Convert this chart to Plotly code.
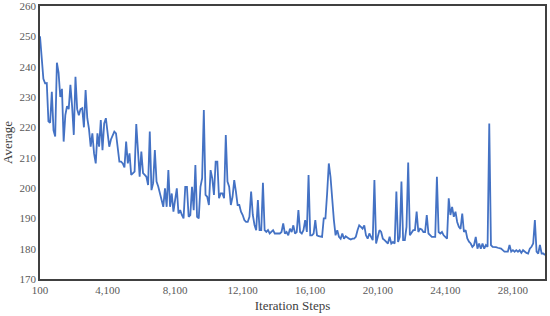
import plotly.graph_objects as go

# average value, sampled every 100 iteration steps (100 .. 30,000)
step_start = 100
step_size = 100

avg_values = [
    250, 243, 236, 234.5, 234.6, 222, 221.5, 231.7, 219, 217,
    241.3, 238, 230, 232.7, 215.3, 224, 227, 226, 234, 227,
    217.5, 236.7, 226, 224, 226, 226.3, 220, 232.3, 223, 219.5,
    213.6, 218, 211.4, 208.1, 218, 213.6, 222.4, 212.5, 221.3, 223,
    218.6, 213.6, 216, 217.5, 218.6, 218, 213.5, 208.7, 208.7, 208.1,
    206.8, 215.3, 208.1, 211.4, 204.3, 204.9, 205.4, 221.1, 213.6, 203.7,
    212, 204.9, 204.3, 203.7, 201, 218.6, 199.3, 201.6, 212.5, 202.1,
    200.5, 198.2, 195.5, 193.8, 199.9, 193.8, 205.9, 193.8, 198.2, 192.2,
    196.1, 199.9, 191.6, 192.7, 191.1, 190, 200.4, 200.4, 190.5, 191.1,
    200.4, 192.7, 207.6, 190.5, 190, 200.4, 203.2, 225.7, 197.7, 197.1,
    194.4, 205.9, 203.2, 197.7, 208.7, 208.7, 196.6, 198.2, 198.2, 196.6,
    217.5, 202.1, 200.4, 194.4, 197.1, 202.6, 198.8, 194.4, 194.4, 192.2,
    191.1, 189.4, 188.8, 188.8, 190.5, 198.8, 191.1, 187.8, 186.1, 196,
    186.1, 186.1, 201.7, 186.1, 185.5, 186.1, 185, 185.5, 186.1, 185,
    185, 184.8, 185, 185.5, 188.3, 185, 185.5, 184.4, 186.6, 185.5,
    187.7, 185, 185.5, 192.7, 185.5, 185, 186.1, 189.4, 185.5, 204.3,
    184.4, 184.4, 185, 189.4, 184.4, 184.1, 183.9, 183.9, 190, 190,
    198.2, 208.1, 203.7, 196, 189.4, 184.4, 186.1, 183.9, 183.3, 185,
    183.3, 184.1, 183.6, 183.3, 183, 183.3, 183.3, 183.9, 186.1, 187.7,
    187.2, 186.6, 187.7, 184.4, 183.3, 185, 183.9, 182.8, 202.6, 181.7,
    183.9, 186.1, 185.5, 183.3, 182.8, 182.2, 181.7, 183.9, 181.7, 182.2,
    181.7, 198.8, 182.2, 183.9, 202.1, 182.8, 182.8, 187.2, 208.4, 184.4,
    185.5, 186.1, 186.1, 192.2, 185.5, 186.6, 186.3, 185.5, 185.5, 191.1,
    185, 184.4, 183.9, 183.9, 183.9, 203.7, 185.5, 185, 185.5, 184.4,
    183.9, 183.3, 196.6, 191.1, 193.8, 190.5, 192.2, 188.8, 187.2, 186.5,
    191.6, 185.5, 186.1, 183.4, 182.3, 181.7, 180.6, 181.2, 183.9, 180,
    181.7, 180, 181.7, 180, 181.2, 180.6, 221.3, 181.2, 180.6, 180.6,
    180.5, 180.3, 180.2, 180, 179.5, 179, 179, 179, 181.2, 179,
    179.5, 179, 179.5, 179, 179.5, 178.6, 179.5, 179, 178.6, 178.4,
    180, 180.6, 181.7, 189.4, 179, 178.4, 181.2, 178.4, 178.4, 177.9,
]

steps = [step_start + step_size * i for i in range(len(avg_values))]

font_family = '"Liberation Serif", "Times New Roman", serif'

fig = go.Figure()
fig.add_trace(go.Scatter(
    x=steps,
    y=avg_values,
    mode="lines",
    line=dict(color="#4472C4", width=1.8),
))

fig.update_layout(
    width=550,
    height=316,
    margin=dict(l=40, r=5, t=6, b=37, autoexpand=False),
    plot_bgcolor="white",
    paper_bgcolor="white",
    showlegend=False,
    font=dict(family=font_family, size=11, color="#595959"),
)

fig.update_xaxes(
    range=[100, 30000],
    tick0=100,
    dtick=4000,
    tickformat=",",
    showgrid=False,
    zeroline=False,
    showline=True,
    linecolor="#404040",
    linewidth=1.5,
    mirror=True,
    ticks="",
    title=dict(text="Iteration Steps", font=dict(size=13, color="#404040"), standoff=6),
)
fig.update_yaxes(
    range=[170, 260],
    dtick=10,
    showgrid=False,
    zeroline=False,
    showline=True,
    linecolor="#404040",
    linewidth=1.5,
    mirror=True,
    ticks="",
    ticklabeloverflow="allow",
    title=dict(text="Average", font=dict(size=13, color="#404040"), standoff=6),
)

# page body has a default margin; drop it so the figure fills the window
fig.write_html(
    "out.html",
    config={"displayModeBar": False},
    post_script="document.body.style.margin='0';document.body.style.overflow='hidden';",
)
